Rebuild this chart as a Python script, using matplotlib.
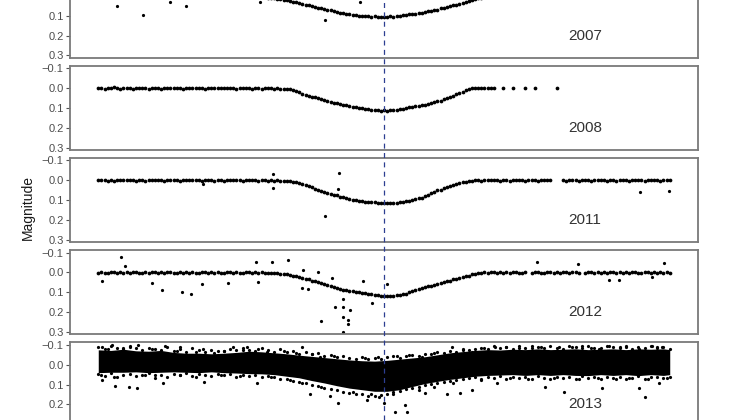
import numpy as np
import matplotlib
matplotlib.use("Agg")
import matplotlib.pyplot as plt
from matplotlib.lines import Line2D
from matplotlib.transforms import blended_transform_factory

plt.rcParams['font.family'] = ['Liberation Sans', 'DejaVu Sans']

years = ['2007', '2008', '2011', '2012', '2013']
ytick_vals = [-0.1, 0.0, 0.1, 0.2, 0.3]
ytick_labels = ['\u22120.1', '0.0', '0.1', '0.2', '0.3']
mid_eclipse = 0.0

# time grid (days from mid-eclipse), magnitudes read in millimag
days = np.arange(-45.5, 45.75, 0.5)

mag2007 = [1, -2, 0, 3, -1, 2, 0, -3, 1, 2,
           -1, 0, 2, -2, 1, 3, 0, -1, 2, 0,
           1, -2, 3, 0, -1, 2, -3, 1, 0, 2,
           -2, 1, 0, 3, -1, 0, 2, -2, 1, 3,
           0, 1, -1, 2, 0, 1, 3, 2, 1, 3,
           2, 4, 5, 6, 9, 10, 12, 15, 17, 20,
           23, 25, 29, 33, 36, 39, 44, 47, 52, 55,
           60, 62, 67, 70, 73, 78, 80, 85, 86, 90,
           91, 95, 96, 99, 100, 102, 101, 104, 103, 105,
           106, 104, 105, 103, 104, 101, 100, 97, 96, 93,
           92, 89, 88, 84, 82, 78, 77, 71, 69, 63,
           61, 55, 53, 47, 45, 39, 36, 29, 26, 20,
           17, 11, 10, 5, 4, 1, 2, -1, 0, 1,
           -2, 0, 1, -1, 2, 0, -2, 1, 0, -1,
           2, -1, 0, 1, -2, 0, 3, -1, 1, 0,
           -1, 2, 0, -2, 1, 0, 2, -1, 0, 1,
           0, -2, 1, 2, -1, 0, 1, -2, 2, 0,
           1, 0, -1, 2, 0, -2, 1, 0, -1, 2,
           0, 1, -1]

mag2008 = [0, -3, 2, -1, 1, -4, 0, 2, -2, 1,
           -1, 2, -3, 0, 1, -2, 3, -1, 0, -2,
           2, -1, 0, -3, 1, 0, -2, 2, -1, 0,
           -3, 1, -1, 0, 2, -2, 0, 1, -3, -1,
           0, -2, 1, -1, 2, 0, -3, 1, 0, 2,
           -1, 0, 2, -1, 1, 0, 2, 1, 3, 2,
           4, 6, 10, 15, 22, 28, 33, 38, 44, 47,
           50, 55, 58, 64, 68, 73, 77, 80, 84, 87,
           90, 94, 96, 99, 102, 104, 107, 108, 110, 112,
           113, 112, 114, 112, 111, 109, 106, 103, 100, 97,
           95, 92, 89, 86, 83, 80, 76, 72, 67, 63,
           55, 50, 44, 38, 31, 25, 18, 11, 5, 1,
           -2, 0, -3, 1, -2, -1, -2, None, None, -1,
           None, None, 0, None, None, None, -1, None, None, 0,
           None, None, None, None, None, None, 0, None, None, None,
           None, None, None, None, None, None, None, None, None, None,
           None, None, None, None, None, None, None, None, None, None,
           None, None, None, None, None, None, None, None, None, None,
           None, None, None]

mag2011 = [1, -2, 0, 3, -1, 2, 0, -3, 1, 0,
           -2, 1, 3, 0, -1, 2, -2, 0, 1, -1,
           0, 2, -1, 1, -3, 0, 2, 1, -2, 0,
           1, -1, 0, 2, -2, 1, 0, 3, -1, 0,
           2, 0, -2, 1, 0, -1, 3, 0, 1, -2,
           0, 2, -1, 1, 3, 0, 2, 1, 4, 2,
           5, 4, 8, 11, 13, 20, 23, 30, 36, 45,
           49, 56, 59, 66, 69, 76, 77, 83, 85, 91,
           93, 98, 99, 103, 104, 108, 108, 111, 111, 114,
           113, 116, 115, 116, 114, 115, 112, 111, 107, 106,
           99, 97, 91, 88, 79, 74, 64, 59, 51, 47,
           39, 36, 29, 26, 19, 16, 11, 9, 4, 3,
           1, -1, 2, 0, -2, 1, 0, -1, 2, 0,
           -1, 2, 0, 1, -2, 0, 3, -1, 1, 0,
           2, -1, 0, -2, 1, None, None, None, -1, 2,
           0, 1, -2, 2, 0, -1, 1, 3, 0, -2,
           1, 0, 2, -1, 0, 3, -2, 1, 0, 2,
           -1, 0, 1, -2, 2, 0, -1, 1, 0, 2,
           0, -1, 1]

mag2012 = [2, -4, 1, 3, -2, 0, 4, -3, 2, -1,
           3, 0, -4, 2, 1, -2, 3, 0, -3, 2,
           -1, 4, 0, -2, 3, 1, -4, 2, 0, 3,
           -2, 1, 4, -3, 0, 2, -1, 3, -2, 1,
           4, -1, 0, 2, -3, 1, 3, -2, 0, 2,
           -1, 3, 0, 4, 2, 1, 5, 3, 6, 7,
           10, 12, 16, 18, 23, 26, 31, 35, 41, 44,
           49, 52, 58, 62, 68, 72, 79, 83, 88, 90,
           94, 96, 100, 101, 105, 106, 109, 110, 113, 115,
           118, 118, 121, 119, 118, 115, 114, 109, 107, 101,
           96, 89, 86, 79, 76, 70, 68, 62, 60, 54,
           49, 43, 41, 34, 32, 26, 24, 18, 16, 10,
           8, 4, 3, 0, 1, -2, 0, 2, -1, 1,
           -3, 2, 0, -2, 3, 1, -1, None, 2, 0,
           -2, 1, 3, -1, 0, 2, -3, 1, 0, -1,
           2, 0, -2, 3, None, 1, -1, 0, 2, -3,
           1, -1, 2, 0, -2, 3, 0, 1, -1, 2,
           0, -3, 1, 2, -1, 0, 3, -2, 1, 0,
           2, -1, 1]

# isolated points (days, mag)
out2007_x = [-42.5, -38.4, -31.5, -34.1, -19.7, -9.4, -3.8]
out2007_y = [0.053, 0.096, 0.053, 0.030, 0.030, 0.120, 0.033]
out2011_x = [-17.7, -17.7, -7.1, -7.3, -28.8, -9.4, 40.8, 45.4]
out2011_y = [-0.030, 0.040, -0.036, 0.045, 0.020, 0.178, 0.060, 0.055]
out2012_x = [-41.9, -44.9, -41.2, -36.9, -35.4, -32.2, -30.7, -29.0, -24.8, -20.4,
             -20.1, -17.8, -15.3, -12.9, -13.1, -12.1, -10.5, -8.3, -7.8, -6.5,
             -6.5, -6.5, -5.7, -5.4, -5.7, -6.5, -10.0, -3.3, -1.9, 24.4,
             30.9, 44.6, 35.8, 37.4, 42.7, 0.5]
out2012_y = [-0.077, 0.045, -0.030, 0.055, 0.090, 0.100, 0.110, 0.060, 0.055, -0.055,
             0.050, -0.050, -0.065, -0.010, 0.080, 0.085, 0.000, 0.030, 0.175, 0.135,
             0.175, 0.225, 0.240, 0.190, 0.260, 0.300, 0.245, 0.045, 0.155, -0.050,
             -0.040, -0.045, 0.040, 0.040, 0.025, 0.060]

# 2013: dense cloud -> core envelope (millimag), edge fringes and scattered points
band_x = [-45.5, -43.5, -41.5, -39.5, -37.5, -35.5, -33.5, -31.5, -29.5, -27.5,
          -25.5, -23.5, -21.5, -19.5, -17.5, -15.5, -13.5, -11.5, -9.5, -7.5,
          -5.5, -3.5, -1.5, 0.5, 2.5, 4.5, 6.5, 8.5, 10.5, 12.5,
          14.5, 16.5, 18.5, 20.5, 22.5, 24.5, 26.5, 28.5, 30.5, 32.5,
          34.5, 36.5, 38.5, 40.5, 42.5, 44.5, 45.5]
band_top = [-75, -72, -78, -70, -68, -72, -62, -58, -58, -55,
            -58, -62, -68, -65, -60, -55, -48, -42, -36, -30,
            -24, -20, -18, -22, -28, -34, -40, -50, -60, -66,
            -72, -76, -74, -78, -76, -80, -76, -78, -80, -76,
            -78, -80, -76, -80, -78, -80, -76]
band_bot = [40, 38, 38, 36, 40, 38, 36, 38, 40, 36,
            40, 42, 45, 46, 50, 58, 66, 80, 92, 106,
            118, 126, 134, 134, 126, 110, 95, 84, 74, 66,
            58, 54, 52, 50, 54, 50, 54, 50, 54, 55,
            50, 54, 50, 55, 50, 54, 50]

fringe_x = np.arange(-45.5, 45.75, 1.0)
fringe_top = [-88, -80, -95, -84, -78, -90, -82, -76, -86, -80,
              -74, -88, -70, -78, -66, -82, -72, -64, -76, -70,
              -68, -80, -72, -84, -76, -70, -86, -74, -66, -78,
              -62, -70, -56, -64, -52, -58, -46, -50, -40, -46,
              -36, -30, -40, -28, -34, -30, -38, -42, -36, -46,
              -48, -44, -56, -52, -62, -58, -70, -66, -76, -72,
              -80, -86, -78, -92, -84, -88, -80, -94, -86, -82,
              -90, -84, -96, -86, -80, -92, -88, -84, -94, -86,
              -82, -96, -88, -84, -92, -80, -90, -86, -94, -84,
              -88, -80]
fringe_bot = [48, 56, 44, 62, 50, 46, 58, 52, 44, 54,
              50, 60, 46, 52, 44, 56, 48, 52, 58, 46,
              54, 48, 60, 52, 58, 50, 62, 56, 64, 70,
              72, 80, 86, 92, 100, 108, 116, 122, 130, 136,
              142, 150, 148, 156, 160, 152, 146, 140, 132, 124,
              118, 110, 104, 96, 92, 86, 80, 76, 72, 66,
              64, 70, 60, 66, 58, 72, 62, 68, 60, 70,
              58, 66, 74, 60, 68, 62, 70, 58, 66, 64,
              72, 60, 68, 62, 74, 66, 58, 70, 64, 60,
              68, 62]

sp2013_x = [-44.9, -42.8, -40.6, -39.3, -35.2, -28.7, -20.2, -11.8, -8.6, -7.3,
            -2.7, -0.8, 1.8, 3.3, 3.7, 0.0, 6.5, 10.0, 12.1, 14.0,
            18.0, 25.6, 28.7, 34.7, 40.6, 41.6, 43.8,
            -44.9, -43.3, -40.4, -39.2, -34.9, -32.5, -28.8, -24.0, -21.8, -18.6,
            -13.1, -10.2, -5.4, 6.1, 10.8, 14.0, 17.7, 23.6, 27.9, 29.9,
            34.2, 35.8, 37.6, 40.6, 42.7, 44.3, 45.1,
            -44, -41.5, -37, -33, -30, -27, -25.5, -22.5, -20, -16,
            -14, -11.5, -8, -3, -1, 2, 4, 8, 12.5, 16,
            19.5, 21.5, 25, 31.5, 33, 38.5, 43.5,
            -45, -43, -38, -36.5, -32.5, -30, -26, -23, -18, -15,
            -13, -10, -5, -2, 1.5, 5.5, 8, 11, 15.5, 20,
            23, 27, 31, 34, 37, 39, 42, 45]
sp2013_y = [0.077, 0.108, 0.113, 0.118, 0.090, 0.087, 0.090, 0.148, 0.160, 0.195,
            0.180, 0.165, 0.240, 0.205, 0.240, 0.195, 0.145, 0.150, 0.145, 0.130,
            0.090, 0.110, 0.140, 0.115, 0.115, 0.165, 0.090,
            -0.088, -0.100, -0.095, -0.100, -0.095, -0.090, -0.077, -0.088, -0.088, -0.065,
            -0.088, -0.040, -0.015, -0.040, -0.088, -0.065, -0.088, -0.095, -0.090, -0.088,
            -0.080, -0.095, -0.088, -0.080, -0.095, -0.088, -0.060,
            -0.080, -0.085, -0.078, -0.070, -0.065, -0.060, -0.070, -0.075, -0.080, -0.070,
            -0.060, -0.055, -0.045, -0.035, -0.040, -0.045, -0.050, -0.060, -0.080, -0.085,
            -0.090, -0.085, -0.090, -0.092, -0.085, -0.090, -0.090,
            0.050, 0.060, 0.050, 0.065, 0.050, 0.060, 0.050, 0.055, 0.060, 0.075,
            0.090, 0.110, 0.140, 0.150, 0.150, 0.125, 0.110, 0.090, 0.075, 0.065,
            0.070, 0.065, 0.070, 0.068, 0.072, 0.065, 0.070, 0.065]


def mmag(v):
    return np.array(v, dtype=float) / 1000.0


curves = {'2007': mag2007, '2008': mag2008, '2011': mag2011, '2012': mag2012}
extras = {'2007': (out2007_x, out2007_y), '2011': (out2011_x, out2011_y),
          '2012': (out2012_x, out2012_y), '2013': (sp2013_x, sp2013_y)}

W, H = 744.0, 420.0
fig = plt.figure(figsize=(W / 100, H / 100), dpi=100)

# panel tops in pixels (image is a crop, top and bottom panels are cut)
tops = [-26.5, 65.7, 157.8, 250.0, 342.3]
ph = 84.3
axes = []
for yr, top in zip(years, tops):
    ax = fig.add_axes([70 / W, 1 - (top + ph) / H, 628 / W, ph / H])
    axes.append(ax)
    dot = dict(ls='none', marker='o', ms=2.3, mew=0, color='black')
    if yr in curves:
        ax.plot(days, mmag(curves[yr]), ls='none', marker='o', ms=2.7, mew=0, color='black')
    if yr == '2013':
        ax.fill_between(band_x, mmag(band_top), mmag(band_bot), color='black', lw=0)
        ax.plot(fringe_x, mmag(fringe_top), **dot)
        ax.plot(fringe_x, mmag(fringe_bot), **dot)
    if yr in extras:
        ax.plot(extras[yr][0], extras[yr][1], **dot)
    ax.set_xlim(-50, 50)
    ax.set_ylim(0.312, -0.113)
    ax.set_xticks([])
    ax.set_yticks(ytick_vals)
    ax.set_yticklabels(ytick_labels)
    ax.tick_params(axis='y', length=3, width=0.8, color='#555555',
                   labelcolor='#4d4d4d', labelsize=8, pad=1.5)
    for s in ax.spines.values():
        s.set_color('#7a7a7a')
        s.set_linewidth(1.3)
    ax.text(32, 0.2, yr, ha='center', va='center', fontsize=11, color='#333333')

# mid-eclipse marker through all panels
trans = blended_transform_factory(axes[0].transData, fig.transFigure)
fig.add_artist(Line2D([mid_eclipse, mid_eclipse], [0, 1], transform=trans,
                      color='#2c3e91', lw=0.9, ls=(0, (4, 3.5)), zorder=5))

fig.text(28 / W, 1 - 207 / H, 'Magnitude', rotation=90, ha='center', va='center',
         fontsize=10, color='#1a1a1a')

fig.savefig('out.png', dpi=100)
